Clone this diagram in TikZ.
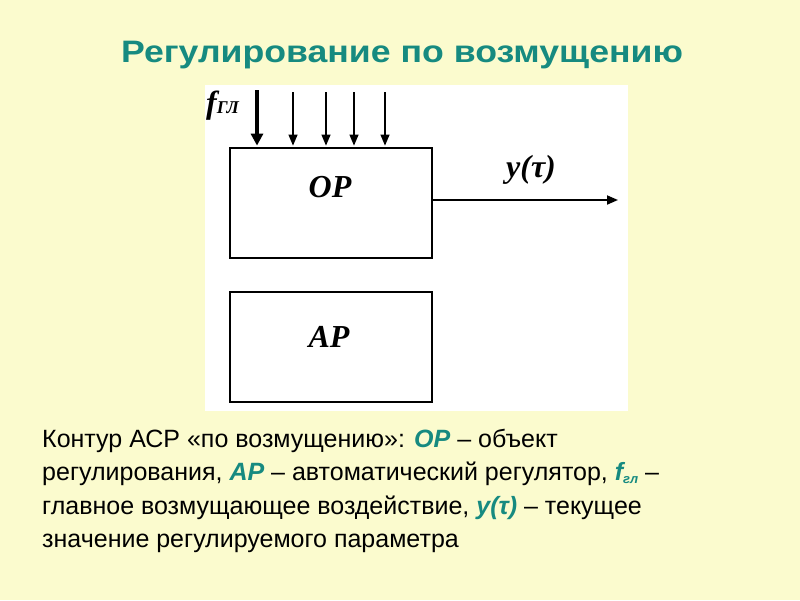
\documentclass[tikz,border=0pt]{standalone}
\usepackage{fontspec}
\setmainfont{Liberation Sans}
\newfontfamily\serifbi{Liberation Serif}
\newfontfamily\titlefont[FakeStretch=1.15]{Liberation Sans}
\usetikzlibrary{arrows.meta}
\definecolor{bgyellow}{RGB}{251,251,206}
\definecolor{teal1}{RGB}{22,138,128}
\tikzset{
  blk/.style={draw=black, line width=2.8pt, minimum width=202pt, minimum height=110pt, inner sep=0pt, fill=white},
  thinarr/.style={line width=1.2pt, -{Triangle[length=11pt,width=9pt]}},
  thickarr/.style={line width=4pt, -{Triangle[length=12pt,width=12pt]}},
  body/.style={anchor=base west, inner sep=0pt, font=\fontsize{25}{28}\selectfont},
  lbl/.style={anchor=base, inner sep=0pt, font=\serifbi\bfseries\itshape\fontsize{32}{34}\selectfont}
}
\begin{document}
\begin{tikzpicture}[x=1pt,y=-1pt]
\fill[bgyellow] (0,0) rectangle (800,600);
\useasboundingbox (0,0) rectangle (800,600);
\fill[white] (205,85) rectangle (628,411);
\node[anchor=base, font=\titlefont\fontsize{31}{34}\selectfont\bfseries, text=teal1, inner sep=0pt] (title) at (402,62) {Регулирование по возмущению};
\node[blk] (op) at (331,203) {};
\node[blk] (ap) at (331,347) {};
\node[lbl] (oplab) at (330,197) {OP};
\node[lbl] (aplab) at (329,347) {AP};
\coordinate (f0) at (257,90);
\coordinate (f1) at (293,92);
\coordinate (f2) at (326,92);
\coordinate (f3) at (354,92);
\coordinate (f4) at (385,92);
\draw[thickarr] (f0) -- ([yshift=1pt]f0 |- op.north);
\draw[thinarr] (f1) -- ([yshift=1pt]f1 |- op.north);
\draw[thinarr] (f2) -- ([yshift=1pt]f2 |- op.north);
\draw[thinarr] (f3) -- ([yshift=1pt]f3 |- op.north);
\draw[thinarr] (f4) -- ([yshift=1pt]f4 |- op.north);
\node[anchor=base west, inner sep=0pt] (flab) at (206,113) {\serifbi\bfseries\itshape\fontsize{32}{34}\selectfont f{\fontsize{18}{20}\selectfont ГЛ}};
\coordinate (out) at (618,200);
\draw[line width=1.8pt, -{Triangle[length=11pt,width=9pt]}] ([yshift=3pt]op.east) -- (out);
\node[lbl] (ylab) at (531,177) {y(τ)};
\node[body] (l1) at (42,447) {Контур АСР «по возмущению»: {\color{teal1}\bfseries\itshape OP} – объект};
\node[body] (l2) at (42,480) {регулирования, {\color{teal1}\bfseries\itshape AP} – автоматический регулятор, {\color{teal1}\bfseries\itshape f\raisebox{-3pt}{\fontsize{13}{14}\selectfont гл}} –};
\node[body] (l3) at (42,514) {главное возмущающее воздействие, {\color{teal1}\bfseries\itshape у(τ)} – текущее};
\node[body] (l4) at (42,547) {значение регулируемого параметра};
\end{tikzpicture}
\end{document}
